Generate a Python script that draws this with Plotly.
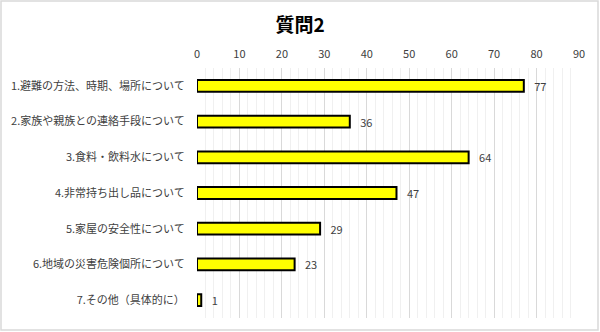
import plotly.graph_objects as go

# Survey question 2: number of responses per topic
categories = [
    "1.避難の方法、時期、場所について",
    "2.家族や親族との連絡手段について",
    "3.食料・飲料水について",
    "4.非常持ち出し品について",
    "5.家屋の安全性について",
    "6.地域の災害危険個所について",
    "7.その他（具体的に）",
]
counts = [77, 36, 64, 47, 29, 23, 1]
x_ticks = [0, 10, 20, 30, 40, 50, 60, 70, 80, 90]

W, H = 600, 332
ML, MR, MT, MB = 197, 21, 68, 14
font_family = "Noto Sans CJK JP, Noto Sans, sans-serif"

fig = go.Figure(
    go.Bar(
        x=counts,
        y=categories,
        orientation="h",
        width=0.33,
        marker=dict(color="#FFFF00", line=dict(color="#000000", width=2)),
        text=counts,
        texttemplate="   %{x}",
        textposition="outside",
        constraintext="none",
        textfont=dict(size=11, color="#404040", family=font_family),
        cliponaxis=False,
    )
)

pw = W - ML - MR
ph = H - MT - MB
# light outer frame around the whole chart
fig.add_shape(
    type="rect", xref="paper", yref="paper",
    x0=(1 - ML) / pw, x1=(W - 2 - ML) / pw,
    y0=-(H - 2 - (H - MB)) / ph, y1=1 + (MT - 1) / ph,
    line=dict(color="#D9D9D9", width=1.5), fillcolor="rgba(0,0,0,0)",
    layer="below",
)

fig.update_layout(
    width=W, height=H,
    margin=dict(l=ML, r=MR, t=MT, b=MB),
    paper_bgcolor="white",
    plot_bgcolor="white",
    showlegend=False,
    font=dict(family=font_family, color="#404040"),
    title=dict(
        text="<b>質問2</b>",
        x=0.5, xanchor="center",
        y=1 - 25 / H, yanchor="middle",
        font=dict(size=19, color="#000000", family=font_family),
    ),
    xaxis=dict(
        range=[0, 90],
        side="top",
        tickvals=x_ticks,
        ticktext=[str(v) for v in x_ticks],
        tickfont=dict(size=11, color="#404040"),
        showgrid=True,
        gridcolor="#D9D9D9",
        gridwidth=1,
        zeroline=False,
        showline=False,
        ticks="outside",
        ticklen=5,
        tickcolor="rgba(0,0,0,0)",
        minor=dict(dtick=2, showgrid=True, gridcolor="#F0F0F0", gridwidth=1),
    ),
    yaxis=dict(
        categoryorder="array",
        categoryarray=categories[::-1],
        autorange=False,
        range=[-0.5, len(categories) - 0.5],
        tickfont=dict(size=11, color="#404040"),
        ticks="outside",
        ticklen=9,
        tickcolor="rgba(0,0,0,0)",
        showgrid=False,
        showline=False,
        zeroline=False,
    ),
)

fig.write_html("out.html")
